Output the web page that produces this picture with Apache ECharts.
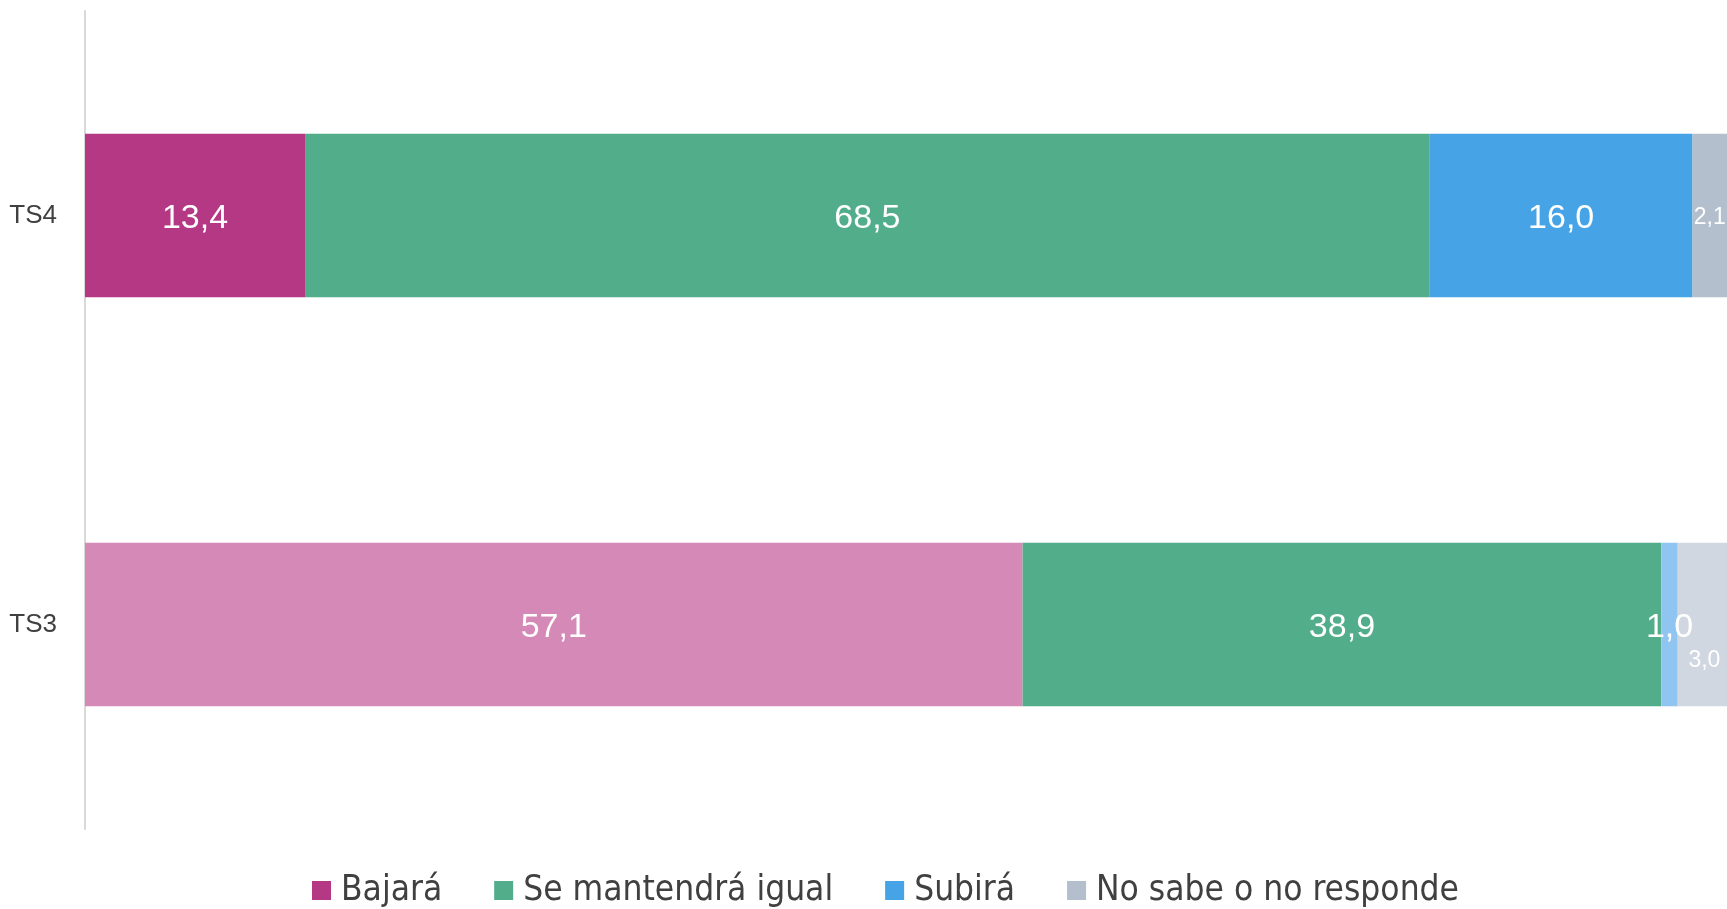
<!DOCTYPE html>
<html><head><meta charset="utf-8">
<script src="https://cdn.jsdelivr.net/npm/echarts@6/dist/echarts.min.js"></script>
<style>html,body{margin:0;padding:0;background:#fff}#c{width:1727px;height:909px}</style>
</head><body><div id="c"></div>
<script>
var categories = ['TS3', 'TS4'];
var seriesNames = ['Bajará', 'Se mantendrá igual', 'Subirá', 'No sabe o no responde'];
var bajara = [57.1, 13.4];
var mantendra = [38.9, 68.5];
var subira = [1.0, 16.0];
var noSabe = [3.0, 2.1];
var colorsTS4 = ['#b53884', '#52ad8a', '#46a3e6', '#b3bfcc'];
var colorsTS3 = ['#d489b7', '#52ad8a', '#90c4f1', '#d0d7e0'];

function fmt(v){ return v.toFixed(1).replace('.', ','); }

var values = [bajara, mantendra, subira, noSabe];
var series = values.map(function(arr, si){
  return {
    name: seriesNames[si],
    type: 'bar',
    stack: 'total',
    barWidth: '40%',
    itemStyle: { color: colorsTS4[si] },
    label: {
      show: true, position: 'inside', color: '#fff',
      fontFamily: 'Liberation Sans', fontSize: 34,
      offset: [0, 3],
      formatter: function(p){ return fmt(p.value); }
    },
    data: arr.map(function(v, ci){
      var item = { value: v, itemStyle: { color: ci === 0 ? colorsTS3[si] : colorsTS4[si] } };
      if (si === 3 && ci === 1) item.label = { fontSize: 23, offset: [0, 2] };
      if (si === 3 && ci === 0) item.label = { fontSize: 23, offset: [2, 36] };
      return item;
    })
  };
});

var chart = echarts.init(document.getElementById('c'));
chart.setOption({
  animation: false,
  grid: { left: 85, right: 0, top: 11, bottom: 80, containLabel: false },
  legend: {
    bottom: -4, left: 307,
    itemWidth: 19, itemHeight: 19, itemGap: 52,
    icon: 'rect',
    textStyle: { fontFamily: "'DejaVu Sans Condensed', 'Liberation Sans'", fontSize: 35, color: '#404040', padding: [0,0,0,5] },
    data: seriesNames
  },
  xAxis: { type: 'value', min: 0, max: 100, show: false },
  yAxis: {
    type: 'category', data: categories,
    axisLine: { show: true, lineStyle: { color: '#d9d9d9', width: 2 } },
    axisTick: { show: false },
    axisLabel: { fontFamily: 'Liberation Sans', fontSize: 26, color: '#404040', margin: 28 }
  },
  series: series
});
</script></body></html>
